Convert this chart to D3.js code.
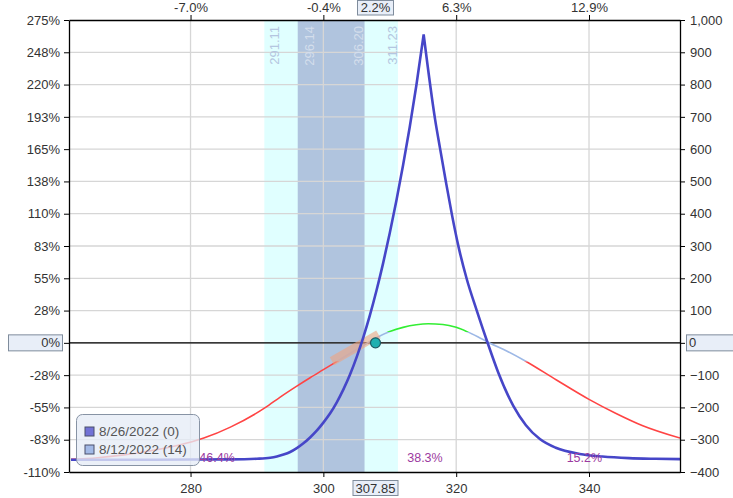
<!DOCTYPE html>
<html>
<head>
<meta charset="utf-8">
<script src="https://cdn.jsdelivr.net/npm/d3@7/dist/d3.min.js"></script>
<style>
body { margin: 0; background: #fff; }
svg text { font-family: "Liberation Sans", Arial, sans-serif; }
</style>
</head>
<body>
<svg id="chart" width="733" height="498"></svg>
<script>
// expiration curve (8/26/2022)
const expPrice = [262, 270, 280, 286, 290, 292, 293, 294, 295, 296, 297, 298, 299, 300, 301, 302, 303, 304, 305, 306, 307, 308, 309, 310, 311, 312, 313, 314, 315.1,
    316.84, 317.59, 318.45, 319.35, 320.35, 321.6, 323.1, 324.7, 326.3, 328.6, 330.5, 332.6, 335, 338.6, 342, 346, 350, 353.7];
const expValue = [-362, -362, -361.5, -361, -359, -356, -352, -346, -338, -326, -311, -293, -272, -247, -219, -185, -145, -99, -45, 16, 85, 162, 247, 340, 441, 550, 668, 797, 955,
    690, 600, 499, 398, 298, 197, 100, 2, -90, -195, -255, -298, -325, -344, -352, -357, -359, -360];

// T+0 curve (8/12/2022)
const t0Price = [262, 266, 270, 274, 278, 282, 286, 291.3, 293.5, 296, 298, 300, 302, 304, 306, 308, 310, 312, 314, 315.8, 318, 320, 321.7, 323.5, 325.1, 327.6, 330.4, 335.1, 340, 344, 348, 353.7];
const t0Value = [-361, -356, -347, -334, -318, -295, -261, -200, -168, -134, -108, -83, -58, -33, -8, 16, 35, 48, 56, 59, 57, 48, 34, 16, -1, -25, -56, -115, -175, -218, -256, -295];

const bandOuter = [291.11, 311.23];
const bandInner = [296.14, 306.20];

const xTicks = [280, 300, 320, 340];
const topTickLabels = ["-7.0%", "-0.4%", "6.3%", "12.9%"];
const yTicks = [-400, -300, -200, -100, 0, 100, 200, 300, 400, 500, 600, 700, 800, 900, 1000];
const leftTickLabels = ["-110%", "-83%", "-55%", "-28%", "0%", "28%", "55%", "83%", "110%", "138%", "165%", "193%", "220%", "248%", "275%"];

const currentPrice = 307.85;
const currentPctLabel = "2.2%";
const tangentPrice = [301.3, 308.3];
const tangentValue = [-57, 26];

const probPrices = [284.0, 315.3, 339.3];
const probTexts = ["46.4%", "38.3%", "15.2%"];

const legendLabels = ["8/26/2022 (0)", "8/12/2022 (14)"];
const legendColors = ["#7272d6", "#a2b9e6"];

const lossLevel = -57, profitLevel = 34;

const margin = { left: 69, right: 680, top: 20, bottom: 472 };
const svg = d3.select("#chart");

const x = d3.scaleLinear().domain([261.7, 353.7]).range([margin.left, margin.right]);
const y = d3.scaleLinear().domain([-400, 1000]).range([margin.bottom, margin.top]);

const defs = svg.append("defs");
defs.append("clipPath").attr("id", "plot")
    .append("rect").attr("x", margin.left).attr("y", margin.top)
    .attr("width", margin.right - margin.left).attr("height", margin.bottom - margin.top);

// bands
svg.append("rect")
    .attr("x", x(bandOuter[0])).attr("y", margin.top)
    .attr("width", x(bandOuter[1]) - x(bandOuter[0])).attr("height", margin.bottom - margin.top)
    .attr("fill", "#e0ffff");
svg.append("rect")
    .attr("x", x(bandInner[0])).attr("y", margin.top)
    .attr("width", x(bandInner[1]) - x(bandInner[0])).attr("height", margin.bottom - margin.top)
    .attr("fill", "#b0c4de");

// grid
svg.append("g").selectAll("line").data(yTicks.slice(1, -1)).enter().append("line")
    .attr("x1", margin.left).attr("x2", margin.right)
    .attr("y1", d => y(d)).attr("y2", d => y(d))
    .attr("stroke", "#d6d6d6").attr("stroke-width", 1.3);
svg.append("g").selectAll("line").data(xTicks).enter().append("line")
    .attr("x1", d => x(d)).attr("x2", d => x(d))
    .attr("y1", margin.top).attr("y2", margin.bottom)
    .attr("stroke", "#d6d6d6").attr("stroke-width", 1.3);

// band labels
const bandLabels = [
    { v: bandOuter[0], dx: 15, color: "#b4c6e0" },
    { v: bandInner[0], dx: 16, color: "#d4deec" },
    { v: bandInner[1], dx: -2, color: "#d4deec" },
    { v: bandOuter[1], dx: -1, color: "#b4c6e0" }
];
svg.append("g").selectAll("text").data(bandLabels).enter().append("text")
    .attr("transform", d => `translate(${x(d.v) + d.dx}, ${margin.top + 6}) rotate(-90)`)
    .attr("text-anchor", "end")
    .attr("font-size", 13)
    .attr("fill", d => d.color)
    .text(d => d.v.toFixed(2));

// zero line
svg.append("line")
    .attr("x1", margin.left).attr("x2", margin.right).attr("y1", y(0)).attr("y2", y(0))
    .attr("stroke", "#000").attr("stroke-width", 1.2);

const plot = svg.append("g").attr("clip-path", "url(#plot)");

// T+0 curve, coloured by profit / loss zone
const t0Data = t0Price.map((p, i) => [p, t0Value[i]]);
const line = d3.line().x(d => x(d[0])).y(d => y(d[1])).curve(d3.curveMonotoneX);
const zones = [
    { lo: -400, hi: lossLevel, color: "#ff4444" },
    { lo: lossLevel, hi: profitLevel, color: "#9db8e6" },
    { lo: profitLevel, hi: 1000, color: "#33ee33" }
];
zones.forEach((z, i) => {
    defs.append("clipPath").attr("id", "zone" + i)
        .append("rect").attr("x", margin.left).attr("width", margin.right - margin.left)
        .attr("y", y(z.hi)).attr("height", y(z.lo) - y(z.hi));
    plot.append("g").attr("clip-path", `url(#zone${i})`)
        .append("path")
        .attr("d", line(t0Data))
        .attr("fill", "none")
        .attr("stroke", z.color)
        .attr("stroke-width", 1.6);
});

// tangent
plot.append("line")
    .attr("x1", x(tangentPrice[0])).attr("y1", y(tangentValue[0]))
    .attr("x2", x(tangentPrice[1])).attr("y2", y(tangentValue[1]))
    .attr("stroke", "#f0a47e").attr("stroke-opacity", 0.6).attr("stroke-width", 9);

// expiration curve, split at the peak so the top stays sharp
const expData = expPrice.map((p, i) => [p, expValue[i]]);
const peak = d3.maxIndex(expValue);
plot.append("path")
    .attr("d", line(expData.slice(0, peak + 1)) + line(expData.slice(peak)))
    .attr("fill", "none")
    .attr("stroke", "#4646c8")
    .attr("stroke-width", 2.6)
    .attr("stroke-linejoin", "round");

// current price marker
svg.append("circle")
    .attr("cx", x(currentPrice)).attr("cy", y(0)).attr("r", 5)
    .attr("fill", "#1fb0b0").attr("stroke", "#1d5c64").attr("stroke-width", 1.2);

// probability labels
svg.append("g").selectAll("text").data(probTexts).enter().append("text")
    .attr("x", (d, i) => x(probPrices[i]))
    .attr("y", margin.bottom - 10)
    .attr("text-anchor", "middle")
    .attr("font-size", 12.5)
    .attr("fill", "#9c3aa0")
    .text(d => d);

// axes
function styleAxis(g) {
    g.attr("font-size", 13).attr("font-family", null);
    g.select(".domain").attr("stroke", "#000").attr("stroke-width", 1.3);
    g.selectAll(".tick line").attr("stroke", "#000");
    g.selectAll(".tick text").attr("fill", "#333");
}

svg.append("g").attr("transform", `translate(${margin.left},0)`)
    .call(d3.axisLeft(y).tickValues(yTicks).tickSize(5).tickSizeOuter(0).tickPadding(4)
        .tickFormat((d, i) => d === 0 ? "" : leftTickLabels[i]))
    .call(styleAxis);

svg.append("g").attr("transform", `translate(${margin.right},0)`)
    .call(d3.axisRight(y).tickValues(yTicks).tickSize(5).tickSizeOuter(0).tickPadding(5)
        .tickFormat(d => d === 0 ? "" : d3.format(",")(d)))
    .call(styleAxis);

svg.append("g").attr("transform", `translate(0,${margin.bottom})`)
    .call(d3.axisBottom(x).tickValues(xTicks).tickSize(5).tickSizeOuter(0).tickPadding(7))
    .call(styleAxis);

svg.append("g").attr("transform", `translate(0,${margin.top})`)
    .call(d3.axisTop(x).tickValues(xTicks).tickSize(5).tickSizeOuter(0).tickPadding(3)
        .tickFormat((d, i) => topTickLabels[i]))
    .call(styleAxis);

// highlighted value boxes
function valueBox(bx, by, w, h, label, tx, anchor) {
    svg.append("rect")
        .attr("x", bx).attr("y", by).attr("width", w).attr("height", h)
        .attr("fill", "#e8eef8").attr("stroke", "#7f8c9c").attr("stroke-width", 1);
    svg.append("text")
        .attr("x", tx).attr("y", by + h / 2).attr("dy", "0.35em")
        .attr("text-anchor", anchor)
        .attr("font-size", 13).attr("fill", "#333")
        .text(label);
}
valueBox(8.5, y(0) - 8, 54, 16, leftTickLabels[yTicks.indexOf(0)], margin.left - 9, "end");
valueBox(margin.right + 6.5, y(0) - 8, 60, 16, "0", margin.right + 9, "start");
valueBox(x(currentPrice) - 22.5, margin.bottom + 8.5, 45, 15, currentPrice.toFixed(2), x(currentPrice), "middle");
valueBox(x(currentPrice) - 18, 0.5, 36, 14.5, currentPctLabel, x(currentPrice), "middle");

// legend
const legend = svg.append("g");
legend.append("rect")
    .attr("x", 76.5).attr("y", 414.5).attr("width", 123).attr("height", 51).attr("rx", 6)
    .attr("fill", "#e6ecf6").attr("fill-opacity", 0.78)
    .attr("stroke", "#8793a4").attr("stroke-width", 1);
const items = legend.selectAll(".item").data(legendLabels).enter().append("g")
    .attr("transform", (d, i) => `translate(85, ${427 + i * 18})`);
items.append("rect")
    .attr("width", 9).attr("height", 9)
    .attr("fill", (d, i) => legendColors[i])
    .attr("stroke", "#4a4f6a").attr("stroke-width", 1);
items.append("text")
    .attr("x", 14).attr("y", 4.5).attr("dy", "0.35em")
    .attr("font-size", 13.5).attr("fill", "#555")
    .text(d => d);
</script>
</body>
</html>
